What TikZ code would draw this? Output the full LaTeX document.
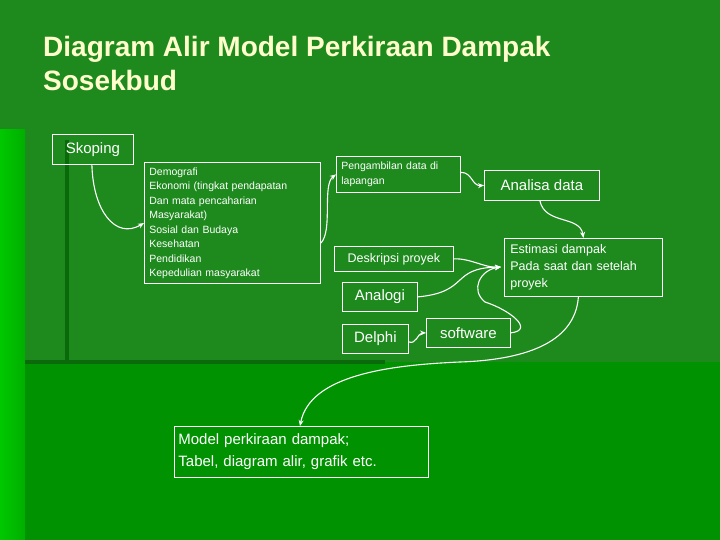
\documentclass[tikz,border=0pt]{standalone}
\usepackage{fontspec}
\setmainfont{Liberation Sans}
\usetikzlibrary{arrows.meta}
\begin{document}
\begin{tikzpicture}[x=1pt,y=-1pt,
  box/.style={draw=white,line width=0.8pt,text=white,inner sep=3pt,anchor=north west},
  big/.style={font=\fontsize{15}{18}\selectfont},
  mid/.style={font=\fontsize{12.5}{17}\selectfont},
  small/.style={font=\fontsize{10.5}{14.5}\selectfont},
  arr/.style={white,line width=1.1pt,-{Stealth[length=6pt,width=5pt]}}]
\definecolor{bgtop}{RGB}{30,138,30}
\definecolor{bgbot}{RGB}{0,146,0}
\definecolor{dark}{RGB}{10,105,10}
\definecolor{titlec}{RGB}{255,255,204}
\useasboundingbox (0,0) rectangle (720,540);
\fill[bgtop] (0,0) rectangle (720,540);
\fill[bgbot] (25,362) rectangle (720,540);
\shade[left color={rgb,255:red,0;green,200;blue,0},right color={rgb,255:red,0;green,175;blue,0}] (0,130) rectangle (25,540);
\fill[dark] (65,140) rectangle (69,362);
\fill[dark] (25,360) rectangle (385,364);
\node[anchor=north west,text=titlec,font=\bfseries\fontsize{28}{34}\selectfont,align=left,inner sep=0pt] (title) at (43,36) {Diagram Alir Model Perkiraan Dampak\\Sosekbud};
\node[box,minimum width=81pt,minimum height=30pt] (sk) at (52,134) {};
\node[text=white,big,inner sep=0pt] (skt) at (sk.center) {Skoping};
\node[box,small,align=left,text width=166pt,inner sep=5pt] (demo) at (144,162) {Demografi\\Ekonomi (tingkat pendapatan\\Dan mata pencaharian\\Masyarakat)\\Sosial dan Budaya\\Kesehatan\\Pendidikan\\Kepedulian masyarakat};
\node[box,small,align=left,text width=114pt,minimum height=36pt,inner sep=5pt] (pen) at (336,156) {Pengambilan data di\\lapangan};
\node[box,big,minimum width=115pt,minimum height=30pt] (an) at (484,170) {Analisa data};
\node[box,mid,align=left,text width=146pt,minimum height=58pt,inner sep=6pt] (est) at (504,238) {Estimasi dampak\\Pada saat dan setelah\\proyek};
\node[box,mid,minimum width=119pt,minimum height=25pt] (des) at (334,246) {Deskripsi proyek};
\node[box,big,minimum width=75pt,minimum height=29pt] (ana) at (342,282) {Analogi};
\node[box,big,minimum width=66pt,minimum height=29pt] (del) at (342,324) {Delphi};
\node[box,big,minimum width=84pt,minimum height=29pt] (sw) at (426,318) {software};
\node[box,align=left,text width=246pt,minimum height=51pt,inner sep=4pt,font=\fontsize{15}{22}\selectfont] (mod) at (174,426) {Model perkiraan dampak;\\Tabel, diagram alir, grafik etc.};
\coordinate (hub) at (501,267);
\draw[arr] (sk.south) ++(-1,0) .. controls (93,210) and (115,240) .. (demo.west);
\draw[arr] (321,243) .. controls (333,230) and (322,185) .. (pen.west);
\draw[arr] (pen.east) ++(0,-2) .. controls (472,172) and (472,186) .. (an.west);
\draw[arr] (an.south) ++(-2,0) .. controls (545,225) and (580,215) .. (est.north);
\draw[arr] (des.east) .. controls (470,258) and (485,268) .. (hub);
\draw[arr] (ana.east) .. controls (470,292) and (450,268) .. (hub);
\draw[arr] (sw.east) .. controls (535,330) and (510,310) .. (485,302) .. controls (470,290) and (480,270) .. (hub);
\draw[arr] (del.east) ++(0,3) .. controls (416,345) and (418,333) .. (sw.west);
\draw[arr] (est.south) ++(-5,0) .. controls (575,345) and (520,360) .. (460,362) .. controls (390,365) and (310,375) .. (300,426);
\end{tikzpicture}
\end{document}
